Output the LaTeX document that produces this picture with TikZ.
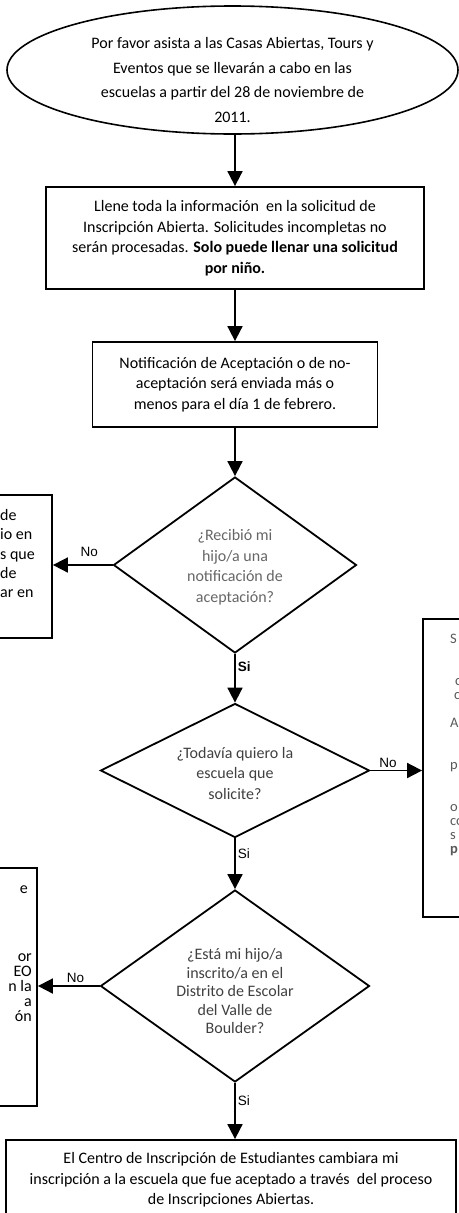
\documentclass[tikz,border=0pt]{standalone}
\usepackage{fontspec}
\setmainfont{Carlito}
\newfontfamily\arialfont{Liberation Sans}
\usetikzlibrary{shapes.geometric,arrows.meta,positioning}
\tikzset{caja/.style={draw, line width=1.8pt, inner sep=0pt},
    decision/.style={draw, diamond, line width=1.8pt, inner sep=0pt},
    texto/.style={align=center, inner sep=0pt, font=\fontsize{16}{20.5}\selectfont},
    flecha/.style={line width=1.8pt, -{Triangle[length=15pt,width=15pt]}},
    sino/.style={inner sep=0pt, font=\arialfont\fontsize{13.5}{15}\selectfont},
    trozo/.style={inner sep=0pt, font=\fontsize{16}{19.3}\selectfont},
    }

\begin{document}
\begin{tikzpicture}[x=1pt,y=-1pt]
\useasboundingbox (0,0) rectangle (458,1213);
% ovalo de inicio
\node[draw, ellipse, line width=1.6pt, minimum width=451pt, minimum height=128pt, inner sep=0pt] (abiertas) at (232.5,70) {};
\node[texto, font=\fontsize{16}{24.5}\selectfont] (abiertastxt) at (232.5,80)
    {Por favor asista a las Casas Abiertas, Tours y\\Eventos que se llevarán a cabo en las\\escuelas a partir del 28 de noviembre de\\2011.};
% columna central
\node[caja, texto, minimum width=378pt, minimum height=102pt] (llene) at (235,238)
    {Llene toda la información~ en la solicitud de\\Inscripción Abierta. Solicitudes incompletas no\\serán procesadas. \textbf{Solo puede llenar una solicitud}\\\textbf{por niño.}};
\node[caja, texto, minimum width=285pt, minimum height=85pt] (notificacion) at (235,384.5)
    {Notificación de Aceptación o de no-\\aceptación será enviada más o\\menos para el día 1 de febrero.};
\node[decision, minimum width=243pt, minimum height=176pt] (recibio) at (235,565) {};
\node[texto, text=black!60] (recibiotxt) at (235,567) {¿Recibió mi\\hijo/a una\\notificación de\\aceptación?};
\node[decision, minimum width=269pt, minimum height=134pt] (todavia) at (235,770.5) {};
\node[texto, text=black!75] (todaviatxt) at (235,773) {¿Todavía quiero la\\escuela que\\solicite?};
\node[decision, minimum width=269pt, minimum height=192pt] (inscrito) at (235,986) {};
\node[texto, text=black!75, font=\fontsize{16}{18.5}\selectfont] (inscritotxt) at (235,991)
    {¿Está mi hijo/a\\inscrito/a en el\\Distrito de Escolar\\del Valle de\\Boulder?};
\node[caja, texto, minimum width=450pt, minimum height=80pt] (cambio) at (231,1180)
    {El Centro de Inscripción de Estudiantes cambiara mi\\inscripción a la escuela que fue aceptado a través~ del proceso\\de Inscripciones Abiertas.};
% cajas cortadas en los bordes
\node[caja, minimum width=202pt, minimum height=143pt] (cajaizq1) at (-49,566.5) {};
\node[trozo, align=left, anchor=west] (izq1txt) at (0,553.5) {de\\io en\\s que\\de\\ar en};
\node[caja, minimum width=187pt, minimum height=238pt] (cajaizq2) at (-56.5,987) {};
\node[trozo, anchor=east] (izq2a) at (28,890) {e};
\node[trozo, align=right, anchor=east, font=\fontsize{16}{15}\selectfont] (izq2b) at (32,988) {or\\EO\\n la\\a\\ón};
\node[caja, minimum width=177pt, minimum height=298pt] (cajader) at (511.5,768) {};
\node[trozo, align=left, anchor=west, text=black!65, font=\fontsize{14.5}{14}\selectfont] (dertxt) at (450,745)
    {S\\\mbox{}\\\mbox{}\\\hspace{5pt}c\\\hspace{4pt}c\\\mbox{}\\A\\\mbox{}\\\mbox{}\\p\\\mbox{}\\\mbox{}\\o\\co\\s\\\textbf{p}};
% flechas
\draw[flecha] (llene.north |- abiertas.south) -- (llene);
\draw[flecha] (llene) -- (notificacion);
\draw[flecha] (notificacion) -- (recibio);
\draw[flecha] (recibio.west) -- node[sino, above=7pt, pos=0.39] (no1) {No} (recibio.west -| cajaizq1.east);
\draw[flecha] (recibio) -- node[sino, right=2pt, pos=0.27, font=\arialfont\bfseries\fontsize{13.5}{15}\selectfont] (si1) {Si} (todavia);
\draw[flecha] (todavia.east) -- node[sino, above=2pt, pos=0.34] (no2) {No} (todavia.east -| cajader.west);
\draw[flecha] (todavia) -- node[sino, right=2pt, pos=0.3] (si2) {Si} (inscrito);
\draw[flecha] (inscrito.west) -- node[sino, above=2pt, pos=0.39] (no3) {No} (inscrito.west -| cajaizq2.east);
\draw[flecha] (inscrito.south) -- node[sino, right=2pt, pos=0.31] (si3) {Si} (inscrito.south |- cambio.north);
\end{tikzpicture}
\end{document}
